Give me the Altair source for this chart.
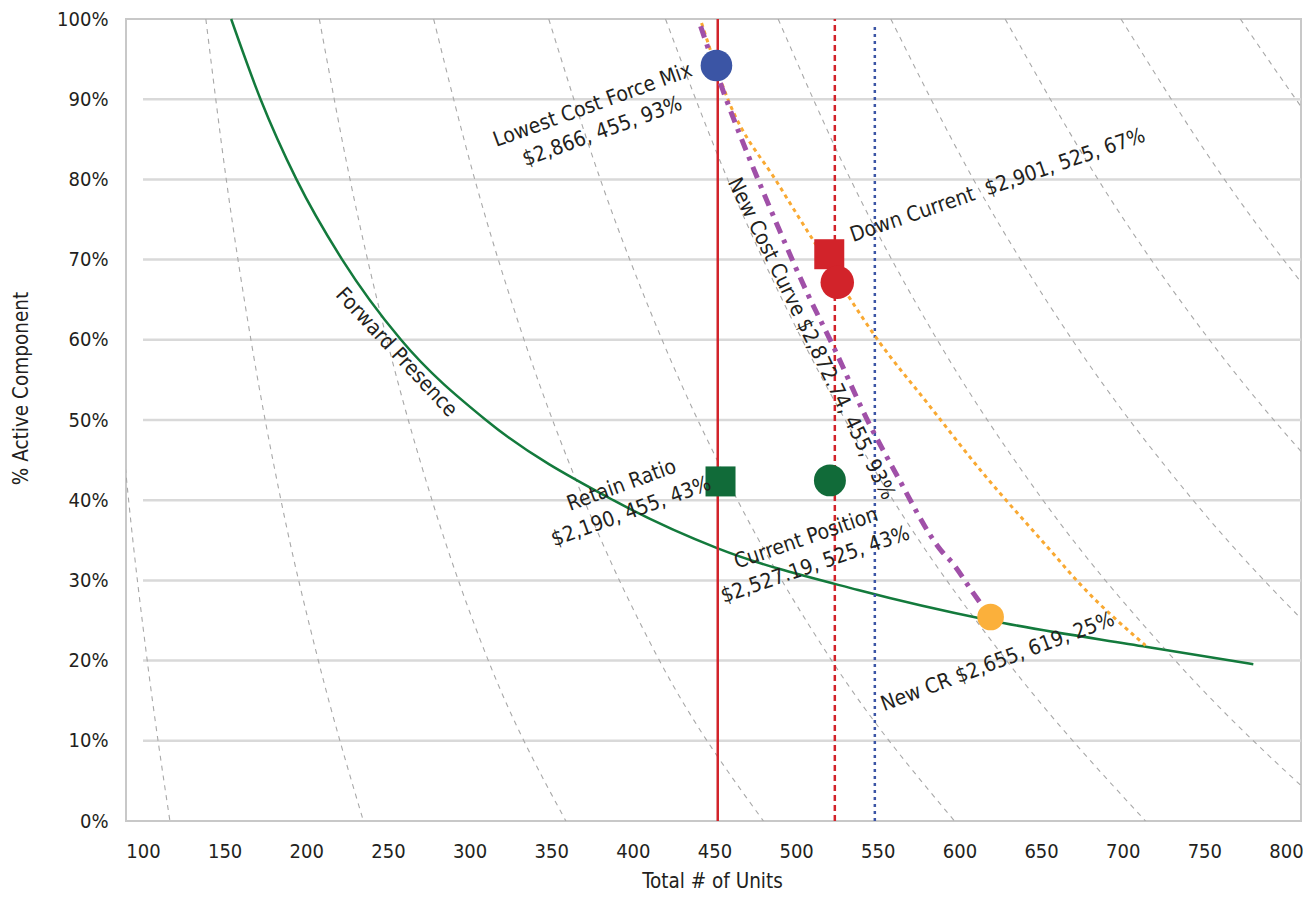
import altair as alt
import pandas as pd

FONT = "DejaVu Sans Condensed, Liberation Sans Narrow, Roboto, sans-serif"
TXT = "#231f20"

# ---------------- data ----------------
x_ticks = [100, 150, 200, 250, 300, 350, 400, 450, 500, 550, 600, 650, 700, 750, 800]
y_ticks = [0, 0.1, 0.2, 0.3, 0.4, 0.5, 0.6, 0.7, 0.8, 0.9, 1.0]
grid_levels = [0.1, 0.2, 0.3, 0.4, 0.5, 0.6, 0.7, 0.8, 0.9]
X_MIN, X_MAX = 89.6, 809.2
GRID_START = 100

# Forward Presence curve
fp_units = [154, 172, 194, 222, 258, 310, 388, 452, 538, 619, 715, 780]
fp_share = [1.0, 0.9, 0.8, 0.7, 0.6, 0.5, 0.4, 0.34, 0.288, 0.25, 0.217, 0.1955]

# orange dotted cost curve
oc_units = [442.1, 458.6, 489.1, 510.5, 551.4, 580.8, 613.1, 655.9, 673.6, 713.9]
oc_share = [0.995, 0.898, 0.794, 0.724, 0.596, 0.520, 0.437, 0.337, 0.296, 0.219]

# purple dash-dot "New Cost Curve"
nc_units = [441.5, 456.8, 472.0, 489.1, 506.2, 523.9, 542.9, 561.2, 588.7, 596.0, 608.2, 619.2]
nc_share = [0.991, 0.902, 0.823, 0.740, 0.661, 0.587, 0.503, 0.433, 0.3375, 0.321, 0.285, 0.254]

# grey dashed iso-cost curves (units at each share level)
iso_levels = [1.0, 0.8, 0.6, 0.4, 0.2, 0.0]
iso_units = [
    [68.5, 74.7, 82.1, 91.2, 102.6, 116.5],
    [138.5, 151.0, 166.1, 184.5, 207.4, 235.0],
    [208.0, 226.8, 249.4, 277.0, 311.5, 359.0],
    [278.0, 303.2, 333.4, 370.2, 416.3, 480.0],
    [348.5, 380.1, 417.9, 464.1, 521.8, 597.0],
    [420.0, 458.1, 503.7, 559.4, 628.9, 714.0],
    [489.0, 533.3, 586.4, 651.2, 732.2, 833.0],
    [558.0, 608.6, 669.1, 743.1, 835.5, 953.0],
    [628.0, 684.9, 753.1, 836.4, 940.4, 1072.0],
    [699.0, 762.3, 838.2, 930.9, 1046.7, 1192.0],
    [772.0, 842.0, 925.8, 1028.2, 1156.0, 1311.0],
]

# vertical reference lines
ref_units = [452.0, 523.7, 548.2]
ref_top = [1.0, 1.0, 0.994]
ref_names = ["solid", "dashed", "dotted"]

# markers
mk_units = [451.2, 520.3, 525.2, 453.7, 520.7, 619.1]
mk_share = [0.942, 0.7067, 0.6716, 0.4234, 0.4247, 0.2544]
mk_shape = ["circle", "square", "circle", "square", "circle", "circle"]
mk_color = ["#3b55a5", "#d2232a", "#d2232a", "#116b39", "#116b39", "#fbb03b"]
mk_size = [1000, 900, 1120, 900, 1020, 710]

# annotations
ann_text = [
    "Lowest Cost Force Mix\n$2,866, 455, 93%",
    "Down Current\u00a0 $2,901, 525, 67%",
    "Retain Ratio\n$2,190, 455, 43%",
    "Current Position\n$2,527.19, 525, 43%",
    "New CR $2,655, 619, 25%",
    "Forward Presence",
    "New Cost Curve $2,872.74, 455, 93%",
]
ann_units = [375.5, 623.5, 393.2, 506.2, 623.5, 255.0, 509.0]
ann_share = [0.892, 0.792, 0.418, 0.352, 0.198, 0.584, 0.601]
ann_angle = [340, 341, 340, 341, 339.5, 47, 64]

# ---------------- tables ----------------
fp_df = pd.DataFrame({"n": fp_units, "p": fp_share})
oc_df = pd.DataFrame({"n": oc_units, "p": oc_share})
nc_df = pd.DataFrame({"n": nc_units, "p": nc_share})
iso_rows = []
for i, row in enumerate(iso_units):
    for lv, u in zip(iso_levels, row):
        iso_rows.append({"c": i, "n": u, "p": lv})
iso_df = pd.DataFrame(iso_rows)
grid_df = pd.DataFrame({"p": grid_levels, "n": [GRID_START] * len(grid_levels),
                        "n2": [X_MAX] * len(grid_levels)})
ref_df = pd.DataFrame({"n": ref_units, "p": [0.0] * 3, "p2": ref_top, "k": ref_names})
mk_df = pd.DataFrame({"n": mk_units, "p": mk_share, "shape": mk_shape,
                      "color": mk_color, "size": mk_size})
ann_df = pd.DataFrame({"n": ann_units, "p": ann_share, "t": ann_text, "a": ann_angle})

# ---------------- encodings ----------------
xscale = alt.Scale(domain=[X_MIN, X_MAX], nice=False, zero=False)
yscale = alt.Scale(domain=[0, 1], nice=False, zero=False)
xaxis = alt.Axis(values=x_ticks, title="Total # of Units", grid=False, domain=False,
                 ticks=False, labelFont=FONT, labelFontSize=20, labelColor=TXT,
                 labelPadding=20, labelFlush=False, labelOverlap=False,
                 titleFont=FONT, titleFontSize=20.5, titleFontWeight="normal",
                 titleColor=TXT, titleX=586, titleY=60, titleBaseline="middle",
                 titleAlign="center")
yaxis = alt.Axis(values=y_ticks, format=".0%", title="% Active Component", grid=False,
                 domain=False, ticks=False, labelFont=FONT, labelFontSize=20,
                 labelColor=TXT, labelPadding=18, labelFlush=False, labelOverlap=False,
                 titleFont=FONT, titleFontSize=20.5, titleFontWeight="normal",
                 titleColor=TXT, titleX=-105, titleY=369, titleAngle=270,
                 titleBaseline="middle", titleAlign="center")


def X(f="n"):
    return alt.X(f"{f}:Q", scale=xscale, axis=xaxis)


def Y(f="p"):
    return alt.Y(f"{f}:Q", scale=yscale, axis=yaxis)


grid = alt.Chart(grid_df).mark_rule(color="#d9d9d9", strokeWidth=2.5).encode(
    x=X(), x2="n2:Q", y=Y())

iso = alt.Chart(iso_df).mark_line(color="#a8a8a8", strokeWidth=1.1, strokeDash=[5, 5],
                                  interpolate="monotone", clip=True).encode(
    x=X(), y=Y(), detail="c:N")

fp = alt.Chart(fp_df).mark_line(color="#137a3c", strokeWidth=2.5,
                                interpolate="monotone").encode(x=X(), y=Y())

ref_solid = alt.Chart(ref_df[ref_df.k == "solid"]).mark_rule(
    color="#d2232a", strokeWidth=2.5).encode(x=X(), y=Y(), y2="p2:Q")
ref_dash = alt.Chart(ref_df[ref_df.k == "dashed"]).mark_rule(
    color="#d2232a", strokeWidth=2.5, strokeDash=[6, 4]).encode(x=X(), y=Y(), y2="p2:Q")
ref_dot = alt.Chart(ref_df[ref_df.k == "dotted"]).mark_rule(
    color="#3b55a5", strokeWidth=2.5, strokeDash=[3, 4]).encode(x=X(), y=Y(), y2="p2:Q")

oc = alt.Chart(oc_df).mark_line(color="#f9a932", strokeWidth=3, strokeDash=[4, 4],
                                interpolate="monotone").encode(x=X(), y=Y())
nc = alt.Chart(nc_df).mark_line(color="#a050a8", strokeWidth=5, strokeDash=[12, 7, 4, 7],
                                interpolate="monotone").encode(x=X(), y=Y())

markers = alt.Chart(mk_df).mark_point(filled=True, opacity=1, strokeWidth=0).encode(
    x=X(), y=Y(),
    shape=alt.Shape("shape:N", scale=None),
    color=alt.Color("color:N", scale=None),
    size=alt.Size("size:Q", scale=None))

ann = alt.Chart(ann_df).mark_text(font=FONT, fontSize=21, color=TXT, align="center",
                                  baseline="middle", lineBreak="\n", lineHeight=28).encode(
    x=X(), y=Y(), text="t:N", angle=alt.Angle("a:Q", scale=None))

chart = alt.layer(grid, iso, fp, ref_solid, ref_dash, ref_dot, oc, nc, markers, ann).properties(
    width=1175, height=802,
    padding={"left": 118, "top": 11, "right": 2, "bottom": 73},
    autosize=alt.AutoSizeParams(type="none"),
    background="white",
).configure_view(stroke="#c8c8c8", strokeWidth=2)

chart.save("out.html", embed_options={"renderer": "svg", "actions": False})
